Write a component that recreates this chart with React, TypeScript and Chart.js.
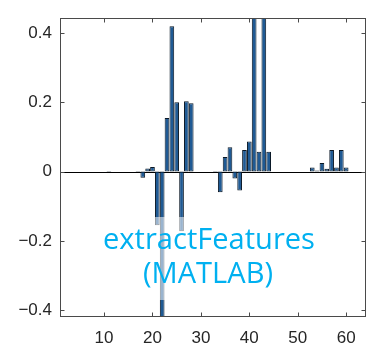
import React, { useEffect, useRef } from "react";
import { Chart, registerables } from "chart.js";

Chart.register(...registerables);

const featureIndex = [
  1, 2, 3, 4, 5, 6, 7, 8, 9, 10, 11, 12, 13, 14, 15, 16, 17, 18, 19, 20, 21, 22,
  23, 24, 25, 26, 27, 28, 29, 30, 31, 32, 33, 34, 35, 36, 37, 38, 39, 40, 41, 42,
  43, 44, 45, 46, 47, 48, 49, 50, 51, 52, 53, 54, 55, 56, 57, 58, 59, 60, 61, 62,
  63, 64,
];

const featureValues = [
  0, 0, 0, 0, 0, 0, 0, 0, 0, 0,
  0.002, 0, 0, 0, 0, 0, 0.002, -0.018, 0.009, 0.013,
  -0.155, -0.5, 0.155, 0.42, 0.2, -0.172, 0.203, 0.197, 0, 0,
  0, 0, 0.002, -0.06, 0.042, 0.07, -0.02, -0.055, 0.062, 0.087,
  0.6, 0.057, 0.6, 0.057, 0, 0, 0, 0, 0, 0,
  0, 0, 0.012, 0.003, 0.025, 0.008, 0.062, 0.012, 0.062, 0.012,
  0, 0, 0, 0,
];

const xTickValues = [10, 20, 30, 40, 50, 60];
const yTickValues = [-0.4, -0.2, 0, 0.2, 0.4];
const overlayLines = ["extractFeatures", "(MATLAB)"];

const AXIS_COLOR = "#4a4a4a";
const TEXT_COLOR = "#262626";

const frameTicksPlugin = {
  id: "frameTicks",
  beforeDatasetsDraw(chart: any) {
    const { ctx, chartArea, scales } = chart;
    const y0 = Math.round(scales.y.getPixelForValue(0)) + 0.5;
    ctx.save();
    ctx.strokeStyle = "#000";
    ctx.lineWidth = 1;
    ctx.beginPath();
    ctx.moveTo(chartArea.left, y0);
    ctx.lineTo(chartArea.right, y0);
    ctx.stroke();
    ctx.restore();
  },
  afterDraw(chart: any) {
    const { ctx, chartArea, scales } = chart;
    const { left, right, top, bottom } = chartArea;
    const L = Math.round(left) + 0.5;
    const R = Math.round(right) - 0.5;
    const T = Math.round(top) + 0.5;
    const B = Math.round(bottom) - 0.5;
    ctx.save();
    ctx.strokeStyle = AXIS_COLOR;
    ctx.lineWidth = 1;
    ctx.strokeRect(L, T, R - L, B - T);
    const len = 4;
    ctx.beginPath();
    xTickValues.forEach((v) => {
      const px = Math.round(scales.x.getPixelForValue(v)) + 0.5;
      ctx.moveTo(px, B);
      ctx.lineTo(px, B - len);
      ctx.moveTo(px, T);
      ctx.lineTo(px, T + len);
    });
    yTickValues.forEach((v) => {
      const py = Math.round(scales.y.getPixelForValue(v)) + 0.5;
      ctx.moveTo(L, py);
      ctx.lineTo(L + len, py);
      ctx.moveTo(R, py);
      ctx.lineTo(R - len, py);
    });
    ctx.stroke();

    // translucent label box and overlay text
    ctx.fillStyle = "rgba(255,255,255,0.55)";
    ctx.fillRect(96, 217, 232, 83);
    ctx.fillStyle = "#00B0F0";
    ctx.textAlign = "center";
    ctx.textBaseline = "alphabetic";
    ctx.font = '100px "Open Sans"';
    const w = ctx.measureText(overlayLines[0]).width;
    const size = (100 * 212) / w;
    ctx.font = `${size}px "Open Sans"`;
    ctx.fillText(overlayLines[0], 209, 249);
    ctx.fillText(overlayLines[1], 208, 283);
    ctx.restore();
  },
};

export default function App() {
  const ref = useRef<HTMLCanvasElement | null>(null);
  useEffect(() => {
    document.body.style.margin = "0";
    const canvas = ref.current;
    if (!canvas) return;
    const chart = new Chart(canvas, {
      type: "bar",
      data: {
        datasets: [
          {
            data: featureIndex.map((x, i) => ({ x, y: featureValues[i] })),
            backgroundColor: "#1f5a94",
            borderColor: "#0b1826",
            borderWidth: 1,
            borderSkipped: false,
            barPercentage: 0.97,
            categoryPercentage: 1,
          } as any,
        ],
      },
      options: {
        animation: false,
        responsive: false,
        layout: { padding: { top: 10, right: 4, left: 0, bottom: 0 } },
        plugins: { legend: { display: false }, tooltip: { enabled: false } },
        scales: {
          x: {
            type: "linear",
            min: 0.9,
            max: 64.1,
            offset: false,
            grid: { display: false, drawTicks: false, offset: false },
            border: { display: false },
            afterBuildTicks: (s: any) => {
              s.ticks = xTickValues.map((v) => ({ value: v }));
            },
            afterFit: (s: any) => {
              s.height = 30;
            },
            ticks: {
              padding: 11,
              color: TEXT_COLOR,
              font: { family: '"Liberation Sans", Arial, sans-serif', size: 17 },
              maxRotation: 0,
              callback: (v: any) => String(v),
            },
          },
          y: {
            min: -0.42,
            max: 0.443,
            grid: { display: false, drawTicks: false },
            border: { display: false },
            afterBuildTicks: (s: any) => {
              s.ticks = yTickValues.map((v) => ({ value: v }));
            },
            afterFit: (s: any) => {
              s.width = 60;
            },
            ticks: {
              padding: 8,
              color: TEXT_COLOR,
              font: { family: '"Liberation Sans", Arial, sans-serif', size: 17 },
              callback: (v: any) => {
                const n = Number(v);
                if (Math.abs(n) < 1e-9) return "0";
                return (n < 0 ? "\u2212" : "") + Math.abs(n).toFixed(1);
              },
            },
          },
        },
      },
      plugins: [frameTicksPlugin],
    });
    return () => chart.destroy();
  }, []);
  return <canvas ref={ref} width={370} height={347} style={{ display: "block" }} />;
}
